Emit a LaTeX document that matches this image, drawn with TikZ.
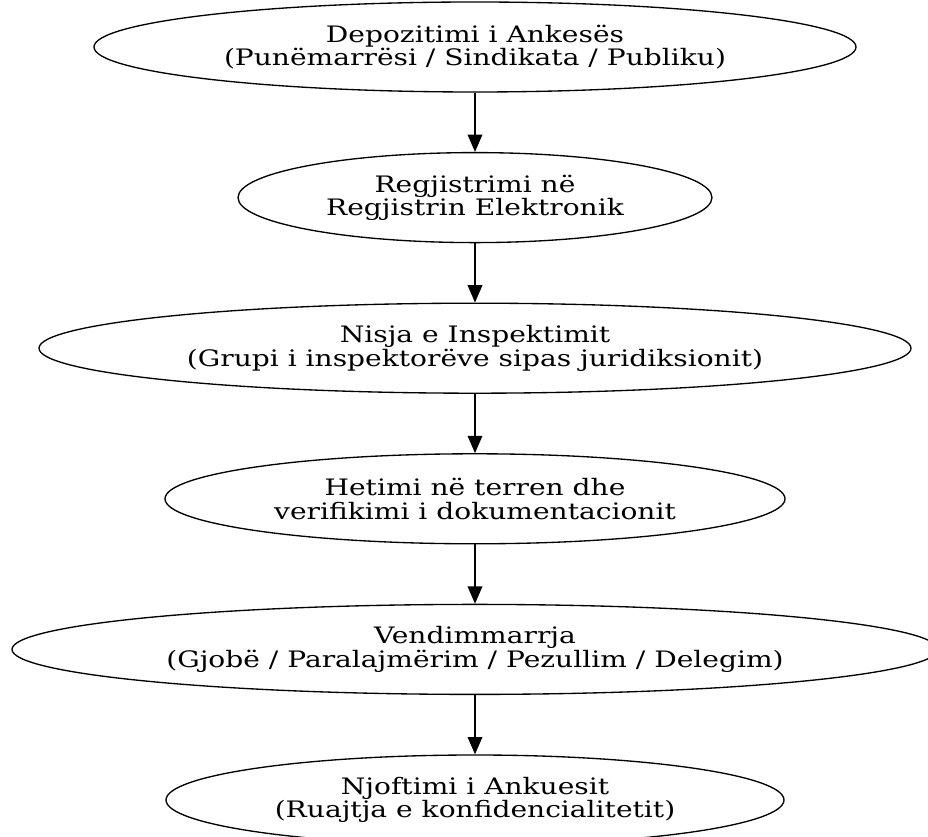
\documentclass[tikz,border=0pt]{standalone}
\usepackage{fontspec}
\setmainfont{DejaVu Serif}[FakeStretch=1.24]
\usetikzlibrary{shapes.geometric, arrows.meta, positioning}
\tikzstyle{stage} = [ellipse, draw=black, line width=1pt, inner sep=0pt, minimum height=67.5pt, align=center, font=\fontsize{17}{17.6}\selectfont]
\tikzstyle{arrow} = [line width=1pt,-{Triangle[length=13pt, width=11pt]}]

\begin{document}
\begin{tikzpicture}[x=0.75pt, y=-0.75pt, node distance=112.95pt]
\useasboundingbox (0,0) rectangle (928,837);

% Filing
\node (filing) [stage, minimum width=571.5pt] at (475,47) {Depozitimi i Ankesës\\(Punëmarrësi / Sindikata / Publiku)};

% Registry
\node (registry) [stage, minimum width=355.5pt, below of=filing] {Regjistrimi në\\Regjistrin Elektronik};

% Inspection start
\node (start) [stage, minimum width=654pt, below of=registry] {Nisja e Inspektimit\\(Grupi i inspektorëve sipas juridiksionit)};

% Field check
\node (field) [stage, minimum width=465pt, below of=start] {Hetimi në terren dhe\\verifikimi i dokumentacionit};

% Decision
\node (decision) [stage, minimum width=694.5pt, below of=field] {Vendimmarrja\\(Gjobë / Paralajmërim / Pezullim / Delegim)};

% Notice
\node (notice) [stage, minimum width=463.5pt, below of=decision] {Njoftimi i Ankuesit\\(Ruajtja e konfidencialitetit)};

% Arrows
\draw [arrow] (filing) -- (registry);
\draw [arrow] (registry) -- (start);
\draw [arrow] (start) -- (field);
\draw [arrow] (field) -- (decision);
\draw [arrow] (decision) -- (notice);

\end{tikzpicture}
\end{document}
